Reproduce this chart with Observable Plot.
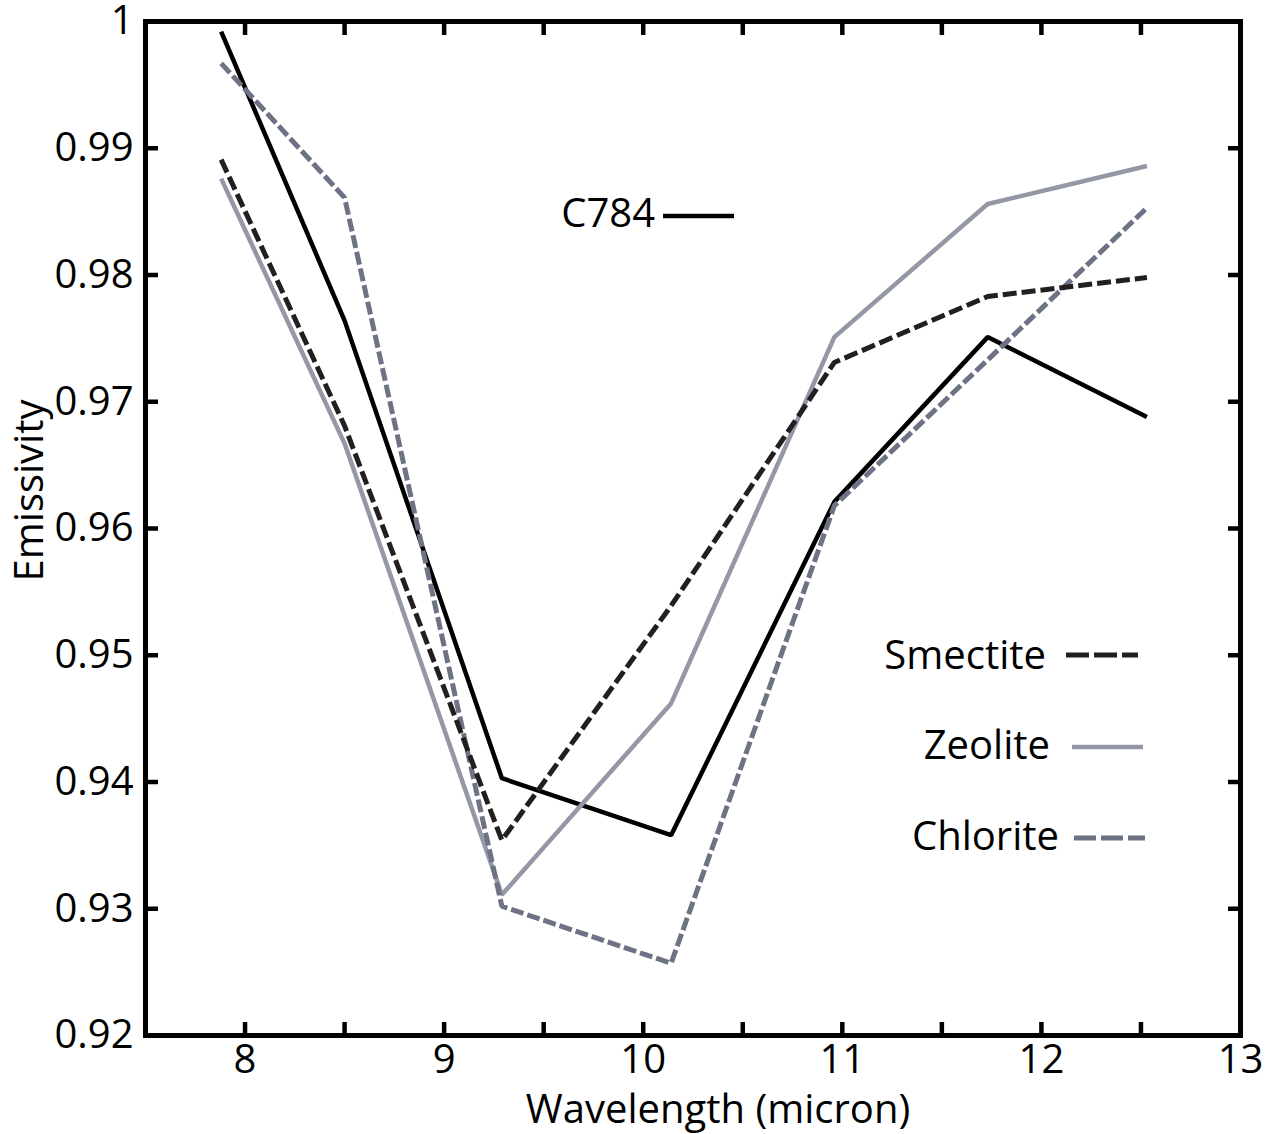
<!DOCTYPE html>
<html>
<head>
<meta charset="utf-8">
<script src="https://cdn.jsdelivr.net/npm/d3@7"></script>
<script src="https://cdn.jsdelivr.net/npm/@observablehq/plot@0.6"></script>
<style>
  body { margin: 0; background: #fff; }
  #chart { width: 1266px; height: 1134px; }
</style>
</head>
<body>
<div id="chart"></div>
<script>
// ---- data ----
const wavelength = [7.88, 8.5, 9.29, 10.14, 10.96, 11.73, 12.53];
const c784     = [0.9992, 0.9764, 0.9403, 0.9358, 0.9621, 0.9751, 0.9688];
const smectite = [0.9891, 0.9681, 0.9354, 0.9539, 0.9731, 0.9783, 0.9798];
const zeolite  = [0.9876, 0.9667, 0.9311, 0.9462, 0.9751, 0.9856, 0.9886];
const chlorite = [0.9967, 0.9861, 0.9302, 0.9257, 0.9618, 0.9733, 0.9853];

const seriesNames  = ["C784", "Zeolite", "Chlorite", "Smectite"];
const seriesValues = [c784, zeolite, chlorite, smectite];
const seriesColors = ["#000000", "#9497a6", "#6d7285", "#231f20"];
const seriesDash   = [null, null, "13,4", "14,5"];
const seriesWidth  = [4.5, 4.5, 5, 5];

const xTickLabels = [8, 9, 10, 11, 12, 13];
const xMinorTicks = [8, 8.5, 9, 9.5, 10, 10.5, 11, 11.5, 12, 12.5];
const yTickLabels = [0.92, 0.93, 0.94, 0.95, 0.96, 0.97, 0.98, 0.99, 1];
const yMinorTicks = [0.93, 0.94, 0.95, 0.96, 0.97, 0.98, 0.99];

// legend (names in display order)
const legendNames = ["C784", "Smectite", "Zeolite", "Chlorite"];

// ---- table ----
const rows = seriesNames.flatMap((name, s) =>
  wavelength.map((w, i) => ({series: name, x: w, y: seriesValues[s][i]}))
);

const font = "'Open Sans', sans-serif";
const fmt = d => String(+d.toFixed(2));

const lineMarks = seriesNames.map((name, s) =>
  Plot.line(rows.filter(r => r.series === name), {
    x: "x", y: "y",
    stroke: seriesColors[s],
    strokeWidth: seriesWidth[s],
    strokeDasharray: seriesDash[s] ?? undefined,
    strokeLinejoin: "miter",
    strokeLinecap: "butt"
  })
);

const W = 1266, H = 1134;
const mL = 145, mR = 26, mT = 21, mB = 99;

const chart = Plot.plot({
  width: W, height: H,
  marginLeft: mL, marginRight: mR, marginTop: mT, marginBottom: mB,
  style: {fontFamily: font, fontSize: "40px", color: "#000", background: "#fff", overflow: "visible"},
  x: {domain: [7.5, 13]},
  y: {domain: [0.92, 1]},
  marks: [
    Plot.axisX(xTickLabels, {anchor: "bottom", tickSize: 0, tickPadding: 9, tickFormat: fmt, label: null, fontSize: 40}),
    Plot.axisY(yTickLabels, {anchor: "left", tickSize: 0, tickPadding: 12, tickFormat: fmt, label: null, fontSize: 40}),
    Plot.axisX(xMinorTicks, {anchor: "bottom", tickSize: -13, tickFormat: () => "", strokeWidth: 4.5, label: null}),
    Plot.axisX(xMinorTicks, {anchor: "top", tickSize: -13, tickFormat: () => "", strokeWidth: 4.5, label: null}),
    Plot.axisY(yMinorTicks, {anchor: "left", tickSize: -13, tickFormat: () => "", strokeWidth: 4.5, label: null}),
    Plot.axisY(yMinorTicks, {anchor: "right", tickSize: -13, tickFormat: () => "", strokeWidth: 4.5, label: null}),
    ...lineMarks,
    Plot.frame({stroke: "#000", strokeWidth: 5}),
    Plot.text(["Wavelength (micron)"], {frameAnchor: "bottom", textAnchor: "middle", lineAnchor: "bottom", dx: 25, dy: 87, fontSize: 40, fill: "#000"}),
    Plot.text(["Emissivity"], {frameAnchor: "left", textAnchor: "middle", rotate: -90, lineAnchor: "bottom", dx: -103, dy: -38, fontSize: 40, fill: "#000"})
  ]
});

document.getElementById("chart").appendChild(chart);

// ---- legend overlay (drawn in the same svg) ----
const legendLayout = [
  {textRight: 655, baseline: 227, lineX1: 663, lineX2: 734, lineY: 216, dash: null},
  {textRight: 1046, baseline: 669, lineX1: 1066, lineX2: 1138, lineY: 655, dash: "23,5"},
  {textRight: 1050, baseline: 759, lineX1: 1072, lineX2: 1143, lineY: 747, dash: null},
  {textRight: 1059, baseline: 850, lineX1: 1074, lineX2: 1145, lineY: 838, dash: "22,5"}
];
const svg = d3.select(chart);
const lg = svg.append("g").attr("class", "legend");
legendNames.forEach((name, k) => {
  const s = seriesNames.indexOf(name);
  const L = legendLayout[k];
  lg.append("text")
    .attr("x", L.textRight).attr("y", L.baseline)
    .attr("text-anchor", "end")
    .attr("font-family", font).attr("font-size", 40).attr("fill", "#000")
    .text(name);
  lg.append("line")
    .attr("x1", L.lineX1).attr("x2", L.lineX2)
    .attr("y1", L.lineY).attr("y2", L.lineY)
    .attr("stroke", seriesColors[s])
    .attr("stroke-width", seriesWidth[s])
    .attr("stroke-dasharray", L.dash);
});
</script>
</body>
</html>
